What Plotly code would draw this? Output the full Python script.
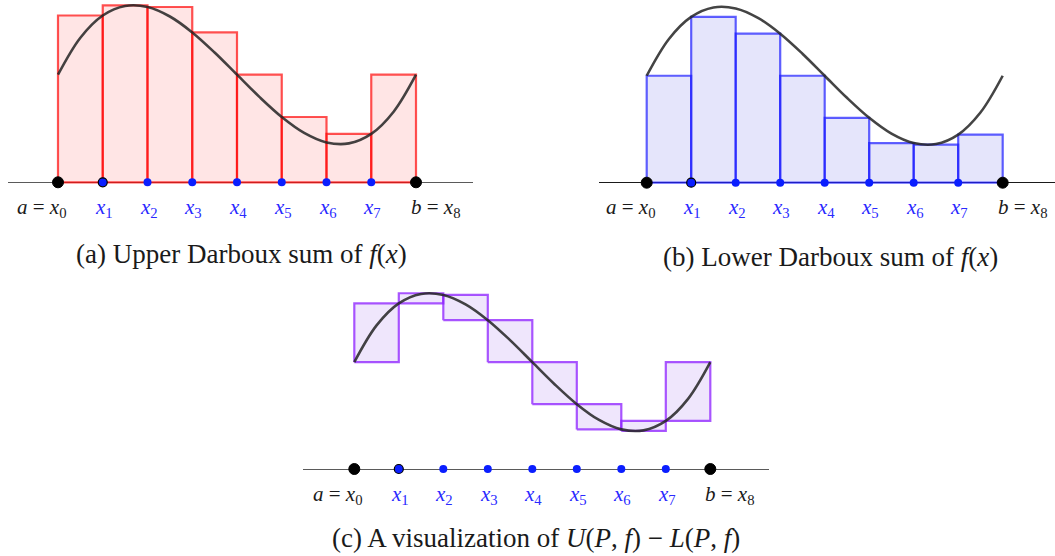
import plotly.graph_objects as go

# ---- data ----
partition = [0, 1, 2, 3, 4, 5, 6, 7, 8]
curve_t = [0, 0.5, 1, 1.5, 2, 2.5, 3, 3.5, 4, 4.5, 5, 5.5, 6, 6.5, 7, 7.5, 8]
curve_f = [1.076, 1.446, 1.668, 1.763, 1.753, 1.658, 1.499, 1.298, 1.076,
           0.854, 0.653, 0.494, 0.399, 0.389, 0.484, 0.706, 1.076]
sup_vals = [1.668, 1.770, 1.753, 1.499, 1.076, 0.653, 0.484, 1.076]
inf_vals = [1.076, 1.668, 1.499, 1.076, 0.653, 0.399, 0.383, 0.484]
point_labels = ["<i>a</i> = <i>x</i><sub>0</sub>", "<i>x</i><sub>1</sub>", "<i>x</i><sub>2</sub>",
                "<i>x</i><sub>3</sub>", "<i>x</i><sub>4</sub>", "<i>x</i><sub>5</sub>",
                "<i>x</i><sub>6</sub>", "<i>x</i><sub>7</sub>", "<i>b</i> = <i>x</i><sub>8</sub>"]
captions = ["(a) Upper Darboux sum of <i>f</i>(<i>x</i>)",
            "(b) Lower Darboux sum of <i>f</i>(<i>x</i>)",
            "(c) A visualization of <i>U</i>(<i>P</i>, <i>f</i>) \u2212 <i>L</i>(<i>P</i>, <i>f</i>)"]

W, H = 1055, 556
SERIF = "Liberation Serif"
BLUE = "#0a1eff"
LABEL_BLUE = "#2a2aff"

fig = go.Figure()

panels = [
    dict(ax="", xd=(8, 473), x0=58, step=44.75, ay=182.3, sc=100.0, yd=(0, 235),
         edge="rgba(255,0,0,0.68)", fill="rgba(255,150,150,0.25)", axcol="#5a5a5a", mode="upper"),
    dict(ax="2", xd=(599.3, 1055), x0=646.7, step=44.5, ay=182.7, sc=99.4, yd=(0, 235),
         edge="rgba(20,20,255,0.68)", fill="rgba(150,150,240,0.25)", axcol="#1a1a1a", mode="lower"),
    dict(ax="3", xd=(303.3, 769), x0=354.3, step=44.5, ay=469, sc=99.3, yd=(285, 500),
         edge="rgba(140,30,255,0.75)", fill="rgba(180,140,240,0.22)", axcol="#5a5a5a", mode="diff"),
]

layout_axes = {}
for p in panels:
    xa = "x" + p["ax"]
    ya = "y" + p["ax"]
    for i in range(8):
        if p["mode"] == "upper":
            lo, hi = 0, sup_vals[i]
        elif p["mode"] == "lower":
            lo, hi = 0, inf_vals[i]
        else:
            lo, hi = inf_vals[i], sup_vals[i]
        a, b = partition[i], partition[i + 1]
        fig.add_trace(go.Scatter(
            x=[a, b, b, a, a], y=[lo, lo, hi, hi, lo], mode="lines", fill="toself",
            fillcolor=p["fill"], line=dict(color=p["edge"], width=2.2),
            xaxis=xa, yaxis=ya, showlegend=False, hoverinfo="skip"))
    fig.add_trace(go.Scatter(
        x=curve_t, y=curve_f, mode="lines", line=dict(color="rgba(35,35,35,0.85)", width=2.6, shape="spline"),
        xaxis=xa, yaxis=ya, showlegend=False, hoverinfo="skip"))
    zeros = [0] * len(partition)
    sizes = [11] + [9] + [8] * 6 + [11]
    cols = ["black", BLUE] + [BLUE] * 6 + ["black"]
    lcols = ["black", "black"] + [BLUE] * 6 + ["black"]
    lw = [1, 1.2] + [0] * 6 + [1]
    fig.add_trace(go.Scatter(
        x=partition, y=zeros, mode="markers",
        marker=dict(size=sizes, color=cols, opacity=1, line=dict(color=lcols, width=lw)),
        xaxis=xa, yaxis=ya, showlegend=False, hoverinfo="skip", cliponaxis=False))

    xr0 = (p["xd"][0] - p["x0"]) / p["step"]
    xr1 = (p["xd"][1] - p["x0"]) / p["step"]
    yr_top = (p["ay"] - p["yd"][0]) / p["sc"]
    yr_bot = (p["ay"] - p["yd"][1]) / p["sc"]
    layout_axes["xaxis" + p["ax"]] = dict(
        domain=[p["xd"][0] / W, p["xd"][1] / W], range=[xr0, xr1],
        showgrid=False, zeroline=False, showticklabels=False, ticks="", showline=False,
        anchor=ya, fixedrange=True)
    layout_axes["yaxis" + p["ax"]] = dict(
        domain=[1 - p["yd"][1] / H, 1 - p["yd"][0] / H], range=[yr_bot, yr_top],
        showgrid=False, zeroline=True, zerolinecolor=p["axcol"], zerolinewidth=1.2,
        showticklabels=False, ticks="", showline=False, anchor=xa, fixedrange=True)

    label_y = -25.5 / p["sc"]
    for k, t in enumerate(partition):
        col = "#1a1a1a" if k in (0, 8) else LABEL_BLUE
        if k == 0:
            xanchor, xshift = "right", 11
        elif k == 8:
            xanchor, xshift = "left", -7
        else:
            xanchor, xshift = "center", 1
        fig.add_annotation(x=t, y=label_y, xref=xa, yref=ya, text=point_labels[k],
                           showarrow=False, xanchor=xanchor, yanchor="middle", xshift=xshift,
                           font=dict(family=SERIF, size=21, color=col))

cap_pos = [(241, 254), (830, 257), (536, 538)]
for txt, (cx, cy) in zip(captions, cap_pos):
    fig.add_annotation(x=cx / W, y=1 - cy / H, xref="paper", yref="paper", text=txt,
                       showarrow=False, xanchor="center", yanchor="middle",
                       font=dict(family=SERIF, size=27, color="#1a1a1a"))

fig.update_layout(width=W, height=H, margin=dict(l=0, r=0, t=0, b=0),
                  paper_bgcolor="white", plot_bgcolor="rgba(0,0,0,0)", **layout_axes)

fig.write_html("out.html")
